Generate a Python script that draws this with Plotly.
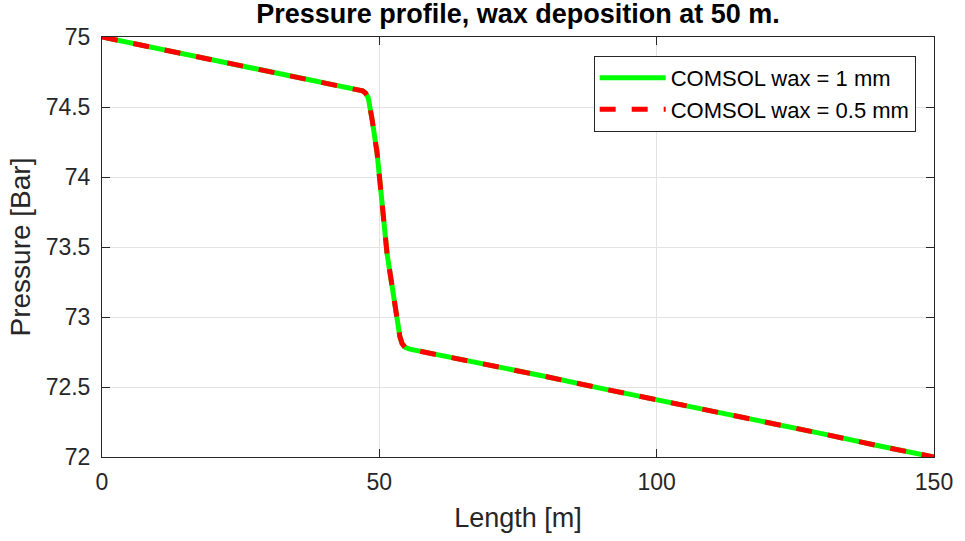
import plotly.graph_objects as go

length_m = [0, 10, 20, 30, 40, 44, 46, 47, 47.5, 48, 48.7, 49.6, 50.2, 50.8, 51.4,
            52.3, 53.2, 53.7, 54.1, 54.6, 55.5, 60, 70, 80, 90, 100, 110, 120, 130, 140, 150]
pressure_1mm = [75.0, 74.92, 74.84, 74.76, 74.68, 74.648, 74.63, 74.615, 74.60, 74.565,
                74.41, 74.17, 73.93, 73.69, 73.45, 73.22, 72.98, 72.86, 72.81, 72.785,
                72.77, 72.735, 72.655, 72.575, 72.49, 72.41, 72.325, 72.245, 72.165, 72.08, 72.0]
pressure_05mm = list(pressure_1mm)

x_ticks = [0, 50, 100, 150]
y_ticks = [72, 72.5, 73, 73.5, 74, 74.5, 75]

FONT = "Liberation Sans, Arial, Helvetica, sans-serif"
TXT = "#262626"

fig = go.Figure()
fig.add_trace(go.Scatter(x=length_m, y=pressure_1mm, mode="lines",
                         name="COMSOL wax = 1 mm",
                         line=dict(color="#00ff00", width=5)))
fig.add_trace(go.Scatter(x=length_m, y=pressure_05mm, mode="lines",
                         name="COMSOL wax = 0.5 mm",
                         line=dict(color="#ff0000", width=5, dash="16px,16px")))

axis_common = dict(showline=True, linecolor="#262626", linewidth=1, mirror="ticks",
                   ticks="inside", ticklen=8, tickcolor="#262626",
                   showgrid=True, gridcolor="#e3e3e3", gridwidth=1, zeroline=False,
                   tickfont=dict(family=FONT, size=23, color=TXT))

fig.update_layout(
    width=965, height=541,
    margin=dict(l=102, r=27, t=37, b=84),
    paper_bgcolor="white", plot_bgcolor="white",
    title=dict(text="<b>Pressure profile, wax deposition at 50 m.</b>",
               x=0.5, xanchor="center", y=0.992, yanchor="top",
               xref="paper",
               font=dict(family=FONT, size=27, color="black")),
    xaxis=dict(range=[0, 150], tickvals=x_ticks, ticktext=[str(v) for v in x_ticks],
               ticklabelstandoff=4,
               title=dict(text="Length [m]", font=dict(family=FONT, size=27, color=TXT), standoff=14),
               **axis_common),
    yaxis=dict(range=[72, 75], tickvals=y_ticks, ticktext=[f"{v:g}" for v in y_ticks],
               ticklabelstandoff=6,
               title=dict(text="Pressure [Bar]", font=dict(family=FONT, size=28, color=TXT), standoff=6),
               **axis_common),
    legend=dict(x=0.978, y=0.955, xanchor="right", yanchor="top",
                bgcolor="white", bordercolor="#262626", borderwidth=1,
                font=dict(family=FONT, size=22, color="black"),
                tracegroupgap=0, itemwidth=66),
    showlegend=True,
)

fig.write_html("out.html")
